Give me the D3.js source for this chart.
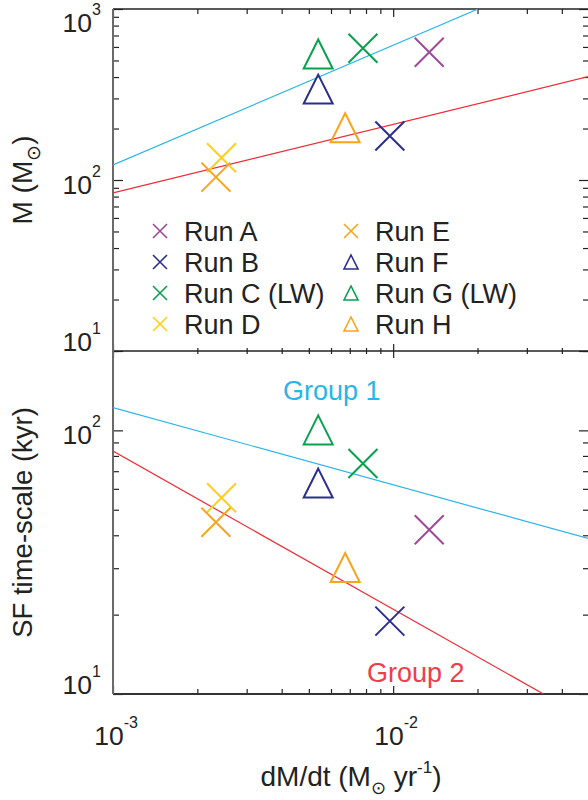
<!DOCTYPE html>
<html>
<head>
<meta charset="utf-8">
<script src="https://cdn.jsdelivr.net/npm/d3@7"></script>
<style>
  body { margin: 0; background: #fff; }
  svg { display: block; font-family: "Liberation Sans", Arial, Helvetica, sans-serif; }
</style>
</head>
<body>
<div id="chart"></div>
<script>
// runs
const runNames = ["Run A", "Run B", "Run C (LW)", "Run D", "Run E", "Run F", "Run G (LW)", "Run H"];
const runSymbols = ["x", "x", "x", "x", "x", "tri", "tri", "tri"];
const runColors = ["#9e4a98", "#2b2e8c", "#07a14f", "#fdd20e", "#f8a51b", "#2b2e8c", "#07a14f", "#f8a51b"];
const mdot = [0.01345, 0.00973, 0.0078, 0.00244, 0.00233, 0.0054, 0.0054, 0.00674];   // dM/dt (Msun/yr)
const mass = [559, 181, 590, 135, 104, 340, 546, 202];                                // M (Msun)
const tsf = [42.0, 18.9, 74.9, 55.5, 44.8, 63.1, 100.4, 30.2];                        // SF time-scale (kyr)

// fit lines (two end points each)
const fitMassG1 = [[0.001, 122.5], [0.0201, 1000]];
const fitMassG2 = [[0.001, 84], [0.05, 403]];
const fitTimeG1 = [[0.001, 122], [0.05, 38.8]];
const fitTimeG2 = [[0.001, 83.4], [0.0344, 10]];
const groupColors = ["#29b4ea", "#ee2b37"];

const xDomain = [1e-3, 5e-2];
const massDomain = [10, 1000];
const timeDomain = [10, 200];

const width = 588, height = 800;
const pLeft = 113, pRight = 589, pTop = 9, pMid = 351, pBottom = 694;

const svg = d3.select("#chart").append("svg")
  .attr("width", width).attr("height", height);

const x = d3.scaleLog().domain(xDomain).range([pLeft, pRight]);
const yM = d3.scaleLog().domain(massDomain).range([pMid, pTop]);
const yT = d3.scaleLog().domain(timeDomain).range([pBottom, pMid]);

const isMajor = v => Math.abs(Math.log10(v) - Math.round(Math.log10(v))) < 1e-9;

// clip paths
const defs = svg.append("defs");
defs.append("clipPath").attr("id", "clipTop").append("rect")
  .attr("x", pLeft).attr("y", pTop).attr("width", pRight - pLeft).attr("height", pMid - pTop);
defs.append("clipPath").attr("id", "clipBot").append("rect")
  .attr("x", pLeft).attr("y", pMid).attr("width", pRight - pLeft).attr("height", pBottom - pMid);

// tick helper: draws ticks only (no domain path)
function ticks(axisFn, scale, values, size, transform) {
  const g = svg.append("g").attr("transform", transform)
    .call(axisFn(scale).tickValues(values).tickSize(size).tickSizeOuter(0).tickFormat(""));
  g.select(".domain").remove();
  g.selectAll("line").attr("stroke", "#222").attr("stroke-width", 1.2);
  return g;
}

const xt = x.ticks();
const xMaj = xt.filter(isMajor), xMin = xt.filter(v => !isMajor(v));

// top of upper panel (ticks pointing down)
ticks(d3.axisTop, x, xMin, -5, `translate(0,${pTop})`);
ticks(d3.axisTop, x, xMaj, -8, `translate(0,${pTop})`);
// shared middle axis (ticks crossing)
[d3.axisTop, d3.axisBottom].forEach(a => {
  ticks(a, x, xMin, 3, `translate(0,${pMid})`);
  ticks(a, x, xMaj, 7, `translate(0,${pMid})`);
});
// bottom axis (ticks pointing up)
ticks(d3.axisBottom, x, xMin, -5, `translate(0,${pBottom})`);
ticks(d3.axisBottom, x, xMaj, -8, `translate(0,${pBottom})`);

// y ticks, both sides, both panels
[yM, yT].forEach(s => {
  const t = s.ticks();
  const maj = t.filter(isMajor), mn = t.filter(v => !isMajor(v));
  ticks(d3.axisLeft, s, mn, -6, `translate(${pLeft},0)`);
  ticks(d3.axisLeft, s, maj, -10, `translate(${pLeft},0)`);
  ticks(d3.axisRight, s, mn, -6, `translate(${pRight},0)`);
  ticks(d3.axisRight, s, maj, -10, `translate(${pRight},0)`);
});

// frame lines
svg.append("line").attr("x1", pLeft).attr("x2", pRight).attr("y1", pTop).attr("y2", pTop)
  .attr("stroke", "#222").attr("stroke-width", 1.6);
svg.append("line").attr("x1", pLeft).attr("x2", pRight).attr("y1", pMid).attr("y2", pMid)
  .attr("stroke", "#222").attr("stroke-width", 1.6);
svg.append("line").attr("x1", pLeft).attr("x2", pRight).attr("y1", pBottom).attr("y2", pBottom)
  .attr("stroke", "#333").attr("stroke-width", 2);
svg.append("line").attr("x1", pLeft).attr("x2", pLeft).attr("y1", pTop).attr("y2", pBottom)
  .attr("stroke", "#6a6a6a").attr("stroke-width", 2);
svg.append("line").attr("x1", pRight).attr("x2", pRight).attr("y1", pTop).attr("y2", pBottom)
  .attr("stroke", "#222").attr("stroke-width", 1.6);

// tick labels 10^n
function powLabel(g, v) {
  const e = Math.round(Math.log10(v));
  g.append("tspan").text("10");
  g.append("tspan").attr("dy", -17).attr("font-size", 16).text(e);
}
[[yM, pMid], [yT, pBottom]].forEach(([s, pb]) => {
  const pt = s.range()[1];
  s.ticks().filter(isMajor).forEach(v => {
    const yb = Math.max(pt + 23, Math.min(pb, s(v) + 14));
    svg.append("text").attr("x", 101).attr("y", yb)
      .attr("text-anchor", "end").attr("font-size", 26.5).attr("fill", "#222")
      .call(powLabel, v);
  });
});
xMaj.forEach(v => {
  svg.append("text").attr("x", x(v) + 3).attr("y", 745)
    .attr("text-anchor", "middle").attr("font-size", 26.5).attr("fill", "#222")
    .call(powLabel, v);
});

// axis titles
const xt1 = svg.append("text").attr("x", (pLeft + pRight) / 2).attr("y", 786)
  .attr("text-anchor", "middle").attr("font-size", 28).attr("fill", "#222");
xt1.append("tspan").text("dM/dt (M");
xt1.append("tspan").attr("dy", 8).attr("font-size", 18).text("\u2299");
xt1.append("tspan").attr("dy", -8).text(" yr");
xt1.append("tspan").attr("dy", -13).attr("font-size", 17).text("-1");
xt1.append("tspan").attr("dy", 13).text(")");

const yt1 = svg.append("text")
  .attr("transform", `translate(32,${(pTop + pMid) / 2}) rotate(-90)`)
  .attr("text-anchor", "middle").attr("font-size", 28).attr("fill", "#222");
yt1.append("tspan").text("M (M");
yt1.append("tspan").attr("dy", 8).attr("font-size", 19).text("\u2299");
yt1.append("tspan").attr("dy", -8).text(")");

svg.append("text")
  .attr("transform", `translate(32,${(pMid + pBottom) / 2}) rotate(-90)`)
  .attr("text-anchor", "middle").attr("font-size", 27.5).attr("fill", "#222")
  .text("SF time-scale (kyr)");

// fit lines
const line = (sx, sy) => d3.line().x(d => sx(d[0])).y(d => sy(d[1]));
const gTop = svg.append("g").attr("clip-path", "url(#clipTop)");
const gBot = svg.append("g").attr("clip-path", "url(#clipBot)");
[[fitMassG1, 0], [fitMassG2, 1]].forEach(([d, i]) => {
  gTop.append("path").attr("d", line(x, yM)(d)).attr("fill", "none")
    .attr("stroke", groupColors[i]).attr("stroke-width", 1.2);
});
[[fitTimeG1, 0], [fitTimeG2, 1]].forEach(([d, i]) => {
  gBot.append("path").attr("d", line(x, yT)(d)).attr("fill", "none")
    .attr("stroke", groupColors[i]).attr("stroke-width", 1.2);
});

svg.append("text").attr("x", 283).attr("y", 400).attr("font-size", 27)
  .attr("fill", groupColors[0]).text("Group 1");
svg.append("text").attr("x", 367).attr("y", 682).attr("font-size", 27)
  .attr("fill", "#ef3e4a").text("Group 2");

// markers
function marker(g, sym, color, r) {
  if (sym === "x") {
    g.append("path").attr("d", `M${-r},${-r}L${r},${r}M${-r},${r}L${r},${-r}`);
  } else {
    g.append("path").attr("d", `M0,${-r}L${r},${r}L${-r},${r}Z`);
  }
  g.selectAll("path").attr("fill", "none").attr("stroke", color).attr("stroke-width", 2);
}

const idx = d3.range(runNames.length);
[[yM, mass], [yT, tsf]].forEach(([sy, vals]) => {
  svg.selectAll(null).data(idx).enter().append("g")
    .attr("transform", i => `translate(${x(mdot[i])},${sy(vals[i])})`)
    .each(function(i) { marker(d3.select(this), runSymbols[i], runColors[i], 14.5); });
});

// legend
const legX = [160, 351], legY0 = 231, legDy = 31;
idx.forEach(i => {
  const col = Math.floor(i / 4), row = i % 4;
  const g = svg.append("g")
    .attr("transform", `translate(${legX[col]},${legY0 + row * legDy})`);
  marker(g, runSymbols[i], runColors[i], 7);
  g.selectAll("path").attr("stroke-width", 1.6);
  g.append("text").attr("x", 24).attr("y", 9.5).attr("font-size", 27)
    .attr("fill", "#222").text(runNames[i]);
});
</script>
</body>
</html>
